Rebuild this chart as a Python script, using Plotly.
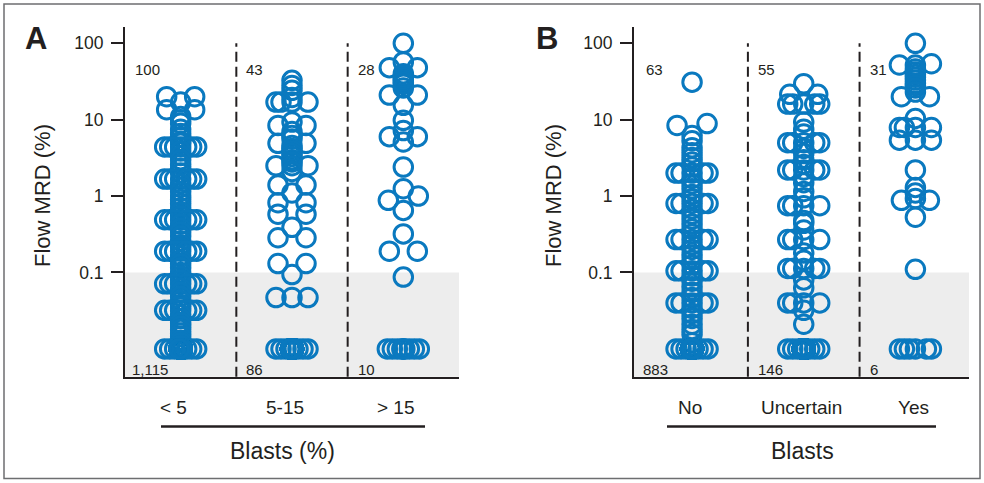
import numpy as np
import plotly.graph_objects as go

W, H = 984, 483

# ------------------------------------------------------------------ data
cats_A = ["< 5", "5-15", "> 15"]
cats_B = ["No", "Uncertain", "Yes"]
xtitle_A = "Blasts (%)"
xtitle_B = "Blasts"
ytitle = "Flow MRD (%)"
panel_letters = ["A", "B"]

# MRD-positive values (%)
A_lt5 = [20, 20, 17, 13.5, 13.5, 11, 10, 9,
         7.5, 6.6, 5.9, 5.2, 4.9,
         4.4, 4.4, 4.4, 4.4, 4.4, 4.4, 4.4,
         3.9, 3.4, 3.0, 2.6, 2.3, 2.0,
         1.67, 1.67, 1.67, 1.67, 1.67, 1.67, 1.67,
         1.45, 1.3, 1.15, 1.0, 0.9, 0.8, 0.7, 0.62, 0.55,
         0.49, 0.49, 0.49, 0.49, 0.49, 0.49, 0.49,
         0.43, 0.38, 0.34, 0.3, 0.26, 0.23, 0.21,
         0.19, 0.19, 0.19, 0.19, 0.19, 0.19, 0.19,
         0.165, 0.145, 0.13, 0.115, 0.1, 0.09, 0.08,
         0.071, 0.071, 0.071, 0.071, 0.071, 0.071, 0.071,
         0.062, 0.055, 0.049, 0.043, 0.038, 0.035,
         0.032, 0.032, 0.032, 0.032, 0.032, 0.032, 0.032,
         0.028, 0.025, 0.022, 0.02, 0.018, 0.016, 0.0145, 0.013, 0.012, 0.011]
A_5_15 = [32.7, 28, 24.2, 19.5, 17, 17, 17, 17, 9.3, 8.4, 8.4,
          7, 6.2, 5.6, 4.9, 4.9, 4.6, 4.2, 3.9, 3.6, 3.3, 3.0, 2.8,
          2.5, 2.5, 2.5, 2.1, 1.4, 1.4, 1.1, 0.82, 0.82, 0.58, 0.58,
          0.39, 0.285, 0.285, 0.131, 0.131, 0.094, 0.047, 0.047, 0.047]
A_gt15 = [100, 57, 48, 48, 40, 37, 35, 33, 31, 29, 26, 21, 21, 15.4,
          9.8, 7.2, 6.0, 6.0, 5.1, 2.4, 1.25, 1.0, 0.88, 0.65,
          0.32, 0.19, 0.19, 0.087]
A_zero_counts = [1115, 86, 10]   # MRD-negative samples per group

B_no = [31, 8.9, 8.4, 6.2,
        5.3, 4.3, 3.7, 3.2, 2.8, 2.4,
        2.0, 2.0, 2.0, 2.0, 2.0,
        1.7, 1.45, 1.25, 1.05, 0.92,
        0.8, 0.8, 0.8, 0.8, 0.8,
        0.68, 0.58, 0.5, 0.43, 0.37, 0.32,
        0.27, 0.27, 0.27, 0.27, 0.27,
        0.23, 0.2, 0.17, 0.145, 0.125,
        0.105, 0.105, 0.105, 0.105, 0.105,
        0.09, 0.077, 0.065, 0.055, 0.047,
        0.04, 0.04, 0.04, 0.04, 0.04,
        0.034, 0.029, 0.025, 0.021, 0.018, 0.0155, 0.012]
B_unc = [29.6, 21.5, 21.5, 16, 16, 16, 16, 16, 9.3, 7.5, 6.5,
         5.0, 5.0, 5.0, 5.0, 5.0, 4.2, 3.6, 3.0, 2.6,
         2.2, 2.2, 2.2, 2.2, 2.2, 1.8, 1.5, 1.15, 0.95,
         0.75, 0.75, 0.75, 0.75, 0.48, 0.44, 0.36,
         0.27, 0.27, 0.27, 0.27, 0.18, 0.145,
         0.113, 0.113, 0.113, 0.113, 0.113, 0.08, 0.063,
         0.04, 0.04, 0.04, 0.04, 0.032, 0.021]
B_yes = [100, 54, 52, 52, 46, 42, 39, 36, 33, 30, 28, 26, 23, 20, 20,
         10.4, 7.9, 7.9, 7.9, 7.9, 5.4, 5.4, 5.4,
         2.2, 1.3, 1.1, 0.93, 0.88, 0.88, 0.53, 0.11]
B_zero_counts = [883, 146, 6]

ytick_vals = [0.1, 1, 10, 100]
ytick_text = ["0.1", "1", "10", "100"]
mrd_cutoff = 0.1
zero_level = 0.01       # MRD-negative samples are drawn at this level

# ------------------------------------------------------------------ style / layout
BLUE = "#0a79bf"
INK = "#231f20"
FONT = "Liberation Sans, Arial, sans-serif"
Y_LOG = [-2.364, 2.217]
DOM_Y = [1 - 376.7 / H, 1 - 26.7 / H]
DOM_X = [[125 / W, 459 / W], [634 / W, 969 / W]]
X_RANGE = [[-0.5, 2.5], [-0.52, 2.48]]
PX_PER_DEC = (376.7 - 26.7) / (Y_LOG[1] - Y_LOG[0])

PAT = [0, -16, 16, -11, 11, -6, 6]
CAND = [0, -15, 15]


def swarm(vals, px_per_x, tol=0.02, dmin=17.0):
    v = np.asarray(vals, float)
    ly = np.log10(v) * PX_PER_DEC
    order = np.argsort(ly, kind="stable")
    off = np.zeros(len(v))
    placed = np.zeros(len(v), bool)
    groups, cur = [], [order[0]]
    for idx in order[1:]:
        if ly[idx] - ly[cur[0]] <= tol * PX_PER_DEC:
            cur.append(idx)
        else:
            groups.append(cur)
            cur = [idx]
    groups.append(cur)
    singles = []
    for g in groups:
        if len(g) == 1:
            singles.append(g[0])
            continue
        if len(g) == 2:
            offs = [-14, 14]
        else:
            offs = [PAT[k] if k < len(PAT) else [0, -1.5, 1.5][k % 3] for k in range(len(g))]
        for k, idx in enumerate(g):
            off[idx] = offs[k]
            placed[idx] = True
    for idx in singles:
        px, py = off[placed], ly[placed]
        chosen = 0
        for c in CAND:
            if np.all((px - c) ** 2 + (py - ly[idx]) ** 2 >= dmin * dmin):
                chosen = c
                break
        off[idx] = chosen
        placed[idx] = True
    return off / px_per_x


def ypaper(px):
    return 1 - px / H


def ylog_to_paper(val):
    f = (np.log10(val) - Y_LOG[0]) / (Y_LOG[1] - Y_LOG[0])
    return DOM_Y[0] + f * (DOM_Y[1] - DOM_Y[0])


def txt(**kw):
    d = dict(showarrow=False, xanchor="center", yanchor="middle")
    d.update(kw)
    return d


fig = go.Figure()
panels = [
    dict(groups=[A_lt5, A_5_15, A_gt15], zeros=A_zero_counts, cats=cats_A, xt=xtitle_A),
    dict(groups=[B_no, B_unc, B_yes], zeros=B_zero_counts, cats=cats_B, xt=xtitle_B),
]
annotations = []
shapes = []
for p, pan in enumerate(panels):
    xa = "x" if p == 0 else "x2"
    ya = "y" if p == 0 else "y2"
    dom = DOM_X[p]
    px_per_x = (dom[1] - dom[0]) * W / (X_RANGE[p][1] - X_RANGE[p][0])
    for i, (vals, nz) in enumerate(zip(pan["groups"], pan["zeros"])):
        plot_vals = list(vals) + [zero_level] * nz
        offs = swarm(plot_vals, px_per_x)
        fig.add_trace(go.Scatter(
            x=i + offs, y=plot_vals, mode="markers", xaxis=xa, yaxis=ya,
            marker=dict(symbol="circle-open", size=18.5, color=BLUE, line=dict(width=3)),
            hoverinfo="skip", showlegend=False))
        # counts
        annotations.append(txt(x=i - 0.5, y=ypaper(70), xref=xa, yref="paper",
                               text=f"{len(vals):,}", xanchor="left",
                               xshift=8, font=dict(size=15, color=INK)))
        annotations.append(txt(x=i - 0.5, y=ypaper(369), xref=xa, yref="paper",
                               text=f"{nz:,}", xanchor="left",
                               xshift=5 if i == 0 else 8, font=dict(size=15, color=INK)))
        annotations.append(txt(x=i, y=ypaper(407), xref=xa, yref="paper",
                               text=pan["cats"][i],
                               xshift=-7 if p == 0 else -2, font=dict(size=19, color=INK)))
    # shading below cutoff
    shapes.append(dict(type="rect", xref=f"{xa} domain", yref="paper", x0=0, x1=1,
                       y0=DOM_Y[0], y1=ylog_to_paper(mrd_cutoff), fillcolor="#ededed",
                       line=dict(width=0), layer="below"))
    # dashed separators
    for b in [0.5, 1.5]:
        shapes.append(dict(type="line", xref=xa, yref="paper", x0=b, x1=b,
                           y0=DOM_Y[0], y1=ylog_to_paper(100),
                           line=dict(color=INK, width=2, dash="10px,5px")))
    # category underline
    ux = [(161, 425), (667, 936)][p]
    shapes.append(dict(type="line", xref="paper", yref="paper", x0=ux[0] / W, x1=ux[1] / W,
                       y0=ypaper(426.5), y1=ypaper(426.5), line=dict(color=INK, width=2.5)))
    # x title
    annotations.append(txt(x=[282, 802][p] / W, y=ypaper(451), xref="paper", yref="paper",
                           text=pan["xt"], font=dict(size=23, color=INK)))
    # y title
    annotations.append(txt(x=[42, 553][p] / W, y=ypaper(196), xref="paper", yref="paper",
                           text=ytitle, textangle=-90, font=dict(size=22, color=INK)))
    # panel letter
    annotations.append(txt(x=[36, 547][p] / W, y=ypaper(38), xref="paper", yref="paper",
                           text=f"<b>{panel_letters[p]}</b>", font=dict(size=31, color=INK)))

# outer frame
shapes.append(dict(type="rect", xref="paper", yref="paper", x0=4 / W, x1=980 / W,
                   y0=ypaper(478.5), y1=ypaper(4), line=dict(color="#6d6e70", width=1.5)))

axis_common_y = dict(type="log", range=Y_LOG, domain=DOM_Y, showline=True, linecolor=INK,
                     linewidth=2, ticks="outside", ticklen=12, tickwidth=2, tickcolor=INK,
                     tickvals=ytick_vals, ticktext=ytick_text, showgrid=False, zeroline=False,
                     tickfont=dict(size=17.5, color=INK, family=FONT), ticklabelstandoff=4,
                     fixedrange=True)
axis_common_x = dict(showline=True, linecolor=INK, linewidth=2, showticklabels=False,
                     ticks="", showgrid=False, zeroline=False, fixedrange=True)

fig.update_layout(
    width=W, height=H, margin=dict(l=0, r=0, t=0, b=0, pad=0),
    paper_bgcolor="white", plot_bgcolor="white",
    font=dict(family=FONT, color=INK),
    xaxis=dict(domain=DOM_X[0], range=X_RANGE[0], anchor="y", **axis_common_x),
    xaxis2=dict(domain=DOM_X[1], range=X_RANGE[1], anchor="y2", **axis_common_x),
    yaxis=dict(anchor="x", **axis_common_y),
    yaxis2=dict(anchor="x2", **axis_common_y),
    annotations=annotations, shapes=shapes, showlegend=False,
)

fig.write_html("out.html", config={"displayModeBar": False})
